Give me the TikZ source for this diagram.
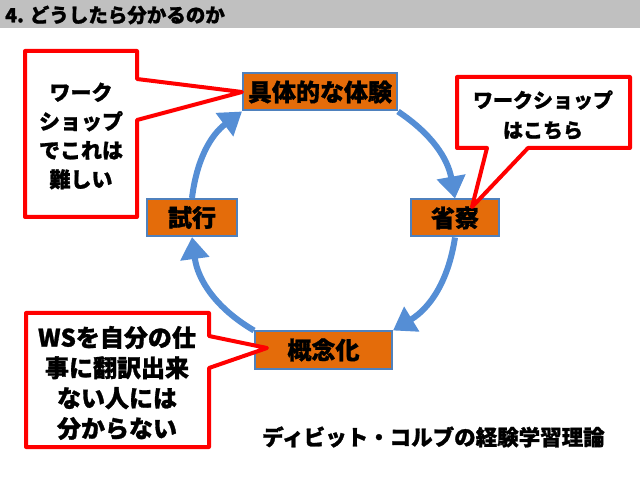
\documentclass[tikz,border=0pt]{standalone}
\usepackage{fontspec}
\setmainfont{Noto Sans CJK JP}[BoldFeatures={FakeBold=1.2}]
\usetikzlibrary{arrows.meta}

\definecolor{stagefill}{HTML}{E46C0A}
\definecolor{stageline}{HTML}{4F81BD}
\definecolor{cycleblue}{HTML}{558ED5}
\definecolor{titlegray}{HTML}{C0C0C0}

\tikzset{
  stage/.style={draw=stageline, line width=2pt, fill=stagefill, inner sep=0pt,
    minimum height=37pt, font=\bfseries\fontsize{24}{24}\selectfont},
  cyclearrow/.style={draw=cycleblue, line width=6pt,
    -{Triangle[length=22pt,width=28pt,fill=cycleblue]}},
  balloon/.style={draw=red, line width=4pt, fill=white, line join=round},
  note/.style={align=center, font=\bfseries\fontsize{21}{29}\selectfont},
}

\begin{document}
\begin{tikzpicture}[x=1pt,y=-1pt]
        \useasboundingbox (0,0) rectangle (640,478);
        % title bar
        \fill[titlegray] (0,0) rectangle (640,28);
        \node[anchor=west, inner sep=0pt, font=\bfseries\fontsize{19.5}{19.5}\selectfont] (title) at (5,15) {4. どうしたら分かるのか};

        % the four stages
        \node[stage, minimum width=154pt] (exp) at (320,92) {具体的な体験};
        \node[stage, minimum width=88pt] (refl) at (455,218) {省察};
        \node[stage, minimum width=137pt] (conc) at (323.5,350) {概念化};
        \node[stage, minimum width=90pt] (trial) at (192,217.5) {試行};

        % cycle
        \draw[cyclearrow] (exp.south east) to[bend left=23] (refl.north);
        \draw[cyclearrow] (refl.south) to[bend left=25] (conc.north east);
        \draw[cyclearrow] (conc.north west) to[bend left=26] (trial.south);
        \draw[cyclearrow] (trial.north) to[bend left=23] (exp.south west);

        % callouts
        \draw[balloon] (25,51) -- (137,51) -- (137,79) -- (exp.west) -- (137,120) -- (137,217) -- (25,217) -- cycle;
        \node[note] (hard) at (81,136) {ワーク\\ショップ\\でこれは\\難しい};

        \draw[balloon] (457,77) -- (630,77) -- (630,148) -- (528,148) -- ([shift={(17,-11)}]refl.center) -- (487,148) -- (457,148) -- cycle;
        \node[note, font=\bfseries\fontsize{20}{30}\selectfont] (here) at (543,115) {ワークショップ\\はこちら};

        \draw[balloon] (26,313) -- (209,313) -- (209,336) -- ([shift={(13,-2)}]conc.west) -- (209,368) -- (209,447) -- (26,447) -- cycle;
        \node[note, font=\bfseries\fontsize{24}{30.3}\selectfont] (ws) at (117,383) {WSを自分の仕\\事に翻訳出来\\ない人には\\分からない};

        \node[anchor=west, inner sep=0pt, font=\bfseries\fontsize{21.5}{21.5}\selectfont] (kolb) at (262,437) {ディビット・コルブの経験学習理論};
\end{tikzpicture}
\end{document}
